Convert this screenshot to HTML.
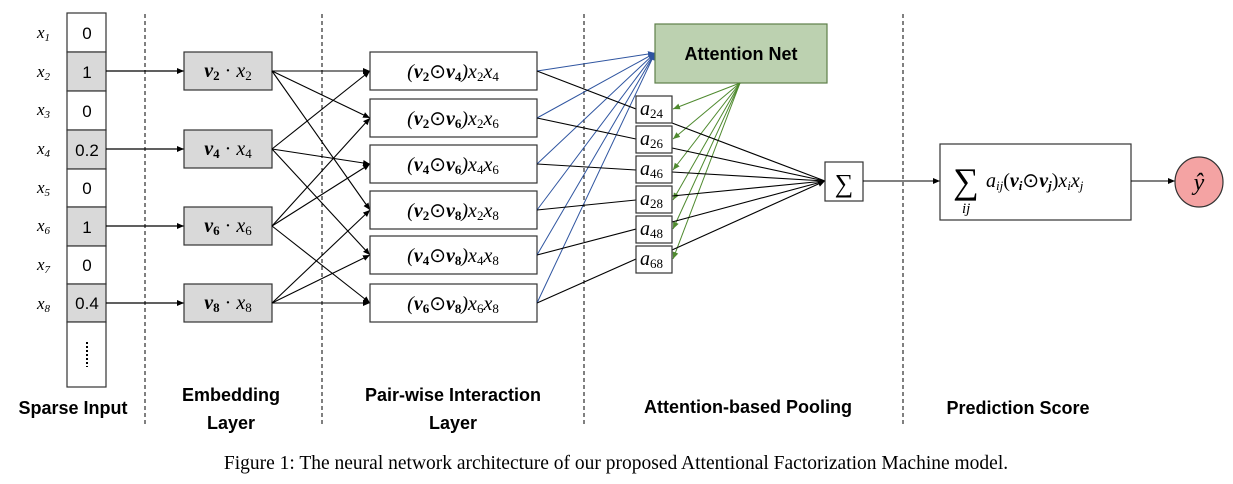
<!DOCTYPE html>
<html><head><meta charset="utf-8"><style>
body{margin:0;background:#fff}
svg text{font-family:"Liberation Serif",serif}
svg text.sans{font-family:"Liberation Sans",sans-serif}
.m{font-family:"Liberation Serif",serif;font-style:italic;font-size:20px}
</style></head><body>
<svg width="1233" height="479" viewBox="0 0 1233 479" xmlns="http://www.w3.org/2000/svg">
<defs>
<marker id="ak" markerWidth="8" markerHeight="8" refX="7" refY="4" orient="auto" markerUnits="userSpaceOnUse"><path d="M0,1 L7,4 L0,7z" fill="#000"/></marker>
<marker id="ab" markerWidth="8" markerHeight="8" refX="7" refY="4" orient="auto" markerUnits="userSpaceOnUse"><path d="M0,1 L7,4 L0,7z" fill="#2f55a0"/></marker>
<marker id="ag" markerWidth="8" markerHeight="8" refX="7" refY="4" orient="auto" markerUnits="userSpaceOnUse"><path d="M0,1 L7,4 L0,7z" fill="#4f8a2f"/></marker>
</defs>
<g stroke="#000" stroke-dasharray="4,3" stroke-width="1">
<line x1="145" y1="14" x2="145" y2="426"/><line x1="322" y1="14" x2="322" y2="426"/>
<line x1="584" y1="14" x2="584" y2="426"/><line x1="903" y1="14" x2="903" y2="426"/>
</g>
<g stroke="#333" stroke-width="1.2">
<rect x="67" y="13" width="39" height="39" fill="#fff"/>
<rect x="67" y="52" width="39" height="39" fill="#d9d9d9"/>
<rect x="67" y="91" width="39" height="39" fill="#fff"/>
<rect x="67" y="130" width="39" height="39" fill="#d9d9d9"/>
<rect x="67" y="169" width="39" height="38" fill="#fff"/>
<rect x="67" y="207" width="39" height="39" fill="#d9d9d9"/>
<rect x="67" y="246" width="39" height="38" fill="#fff"/>
<rect x="67" y="284" width="39" height="38" fill="#d9d9d9"/>
<rect x="67" y="322" width="39" height="65" fill="#fff"/>
</g>
<line x1="87" y1="342" x2="87" y2="367" stroke="#000" stroke-width="2" stroke-dasharray="2,2"/>
<g font-size="17" text-anchor="middle">
<text x="87" y="39" class="sans">0</text>
<text x="87" y="78" class="sans">1</text>
<text x="87" y="117" class="sans">0</text>
<text x="87" y="156" class="sans">0.2</text>
<text x="87" y="194" class="sans">0</text>
<text x="87" y="233" class="sans">1</text>
<text x="87" y="271" class="sans">0</text>
<text x="87" y="309" class="sans">0.4</text>
</g>
<g>
<text x="37" y="38" class="m" style="font-size:17px">x<tspan font-size="11" dy="3">1</tspan></text>
<text x="37" y="77" class="m" style="font-size:17px">x<tspan font-size="11" dy="3">2</tspan></text>
<text x="37" y="115" class="m" style="font-size:17px">x<tspan font-size="11" dy="3">3</tspan></text>
<text x="37" y="154" class="m" style="font-size:17px">x<tspan font-size="11" dy="3">4</tspan></text>
<text x="37" y="193" class="m" style="font-size:17px">x<tspan font-size="11" dy="3">5</tspan></text>
<text x="37" y="231" class="m" style="font-size:17px">x<tspan font-size="11" dy="3">6</tspan></text>
<text x="37" y="270" class="m" style="font-size:17px">x<tspan font-size="11" dy="3">7</tspan></text>
<text x="37" y="309" class="m" style="font-size:17px">x<tspan font-size="11" dy="3">8</tspan></text>
</g>
<g stroke="#000" stroke-width="1.2" marker-end="url(#ak)">
<line x1="106" y1="71" x2="184" y2="71"/><line x1="106" y1="149" x2="184" y2="149"/>
<line x1="106" y1="226" x2="184" y2="226"/><line x1="106" y1="303" x2="184" y2="303"/>
</g>
<g stroke="#333" stroke-width="1.2" fill="#d9d9d9">
<rect x="184" y="52" width="88" height="38"/><rect x="184" y="130" width="88" height="38"/>
<rect x="184" y="207" width="88" height="38"/><rect x="184" y="284" width="88" height="38"/>
</g>
<g text-anchor="middle">
<text x="228" y="77" class="m"><tspan font-weight="bold">v</tspan><tspan font-weight="bold" font-style="normal" font-size="13" dy="3">2</tspan><tspan dy="-3" font-style="normal"> · </tspan>x<tspan font-size="13" font-style="normal" dy="3">2</tspan></text>
<text x="228" y="155" class="m"><tspan font-weight="bold">v</tspan><tspan font-weight="bold" font-style="normal" font-size="13" dy="3">4</tspan><tspan dy="-3" font-style="normal"> · </tspan>x<tspan font-size="13" font-style="normal" dy="3">4</tspan></text>
<text x="228" y="232" class="m"><tspan font-weight="bold">v</tspan><tspan font-weight="bold" font-style="normal" font-size="13" dy="3">6</tspan><tspan dy="-3" font-style="normal"> · </tspan>x<tspan font-size="13" font-style="normal" dy="3">6</tspan></text>
<text x="228" y="309" class="m"><tspan font-weight="bold">v</tspan><tspan font-weight="bold" font-style="normal" font-size="13" dy="3">8</tspan><tspan dy="-3" font-style="normal"> · </tspan>x<tspan font-size="13" font-style="normal" dy="3">8</tspan></text>
</g>
<g stroke="#000" stroke-width="1.1" marker-end="url(#ak)">
<line x1="272" y1="71" x2="370" y2="71"/><line x1="272" y1="71" x2="370" y2="118"/><line x1="272" y1="71" x2="370" y2="210"/>
<line x1="272" y1="149" x2="370" y2="71"/><line x1="272" y1="149" x2="370" y2="164"/><line x1="272" y1="149" x2="370" y2="255"/>
<line x1="272" y1="226" x2="370" y2="118"/><line x1="272" y1="226" x2="370" y2="164"/><line x1="272" y1="226" x2="370" y2="303"/>
<line x1="272" y1="303" x2="370" y2="210"/><line x1="272" y1="303" x2="370" y2="255"/><line x1="272" y1="303" x2="370" y2="303"/>
</g>
<g stroke="#333" stroke-width="1.2" fill="#fff">
<rect x="370" y="52" width="167" height="38"/><rect x="370" y="99" width="167" height="38"/>
<rect x="370" y="145" width="167" height="38"/><rect x="370" y="191" width="167" height="38"/>
<rect x="370" y="236" width="167" height="38"/><rect x="370" y="284" width="167" height="38"/>
</g>
<g text-anchor="middle">
<text x="453" y="78" class="m">(<tspan font-weight="bold">v</tspan><tspan font-weight="bold" font-style="normal" font-size="13" dy="3">2</tspan><tspan dy="-3" font-style="normal">⊙</tspan><tspan font-weight="bold">v</tspan><tspan font-weight="bold" font-style="normal" font-size="13" dy="3">4</tspan><tspan dy="-3">)x</tspan><tspan font-size="13" font-style="normal" dy="3">2</tspan><tspan dy="-3">x</tspan><tspan font-size="13" font-style="normal" dy="3">4</tspan></text>
<text x="453" y="125" class="m">(<tspan font-weight="bold">v</tspan><tspan font-weight="bold" font-style="normal" font-size="13" dy="3">2</tspan><tspan dy="-3" font-style="normal">⊙</tspan><tspan font-weight="bold">v</tspan><tspan font-weight="bold" font-style="normal" font-size="13" dy="3">6</tspan><tspan dy="-3">)x</tspan><tspan font-size="13" font-style="normal" dy="3">2</tspan><tspan dy="-3">x</tspan><tspan font-size="13" font-style="normal" dy="3">6</tspan></text>
<text x="453" y="171" class="m">(<tspan font-weight="bold">v</tspan><tspan font-weight="bold" font-style="normal" font-size="13" dy="3">4</tspan><tspan dy="-3" font-style="normal">⊙</tspan><tspan font-weight="bold">v</tspan><tspan font-weight="bold" font-style="normal" font-size="13" dy="3">6</tspan><tspan dy="-3">)x</tspan><tspan font-size="13" font-style="normal" dy="3">4</tspan><tspan dy="-3">x</tspan><tspan font-size="13" font-style="normal" dy="3">6</tspan></text>
<text x="453" y="217" class="m">(<tspan font-weight="bold">v</tspan><tspan font-weight="bold" font-style="normal" font-size="13" dy="3">2</tspan><tspan dy="-3" font-style="normal">⊙</tspan><tspan font-weight="bold">v</tspan><tspan font-weight="bold" font-style="normal" font-size="13" dy="3">8</tspan><tspan dy="-3">)x</tspan><tspan font-size="13" font-style="normal" dy="3">2</tspan><tspan dy="-3">x</tspan><tspan font-size="13" font-style="normal" dy="3">8</tspan></text>
<text x="453" y="262" class="m">(<tspan font-weight="bold">v</tspan><tspan font-weight="bold" font-style="normal" font-size="13" dy="3">4</tspan><tspan dy="-3" font-style="normal">⊙</tspan><tspan font-weight="bold">v</tspan><tspan font-weight="bold" font-style="normal" font-size="13" dy="3">8</tspan><tspan dy="-3">)x</tspan><tspan font-size="13" font-style="normal" dy="3">4</tspan><tspan dy="-3">x</tspan><tspan font-size="13" font-style="normal" dy="3">8</tspan></text>
<text x="453" y="310" class="m">(<tspan font-weight="bold">v</tspan><tspan font-weight="bold" font-style="normal" font-size="13" dy="3">6</tspan><tspan dy="-3" font-style="normal">⊙</tspan><tspan font-weight="bold">v</tspan><tspan font-weight="bold" font-style="normal" font-size="13" dy="3">8</tspan><tspan dy="-3">)x</tspan><tspan font-size="13" font-style="normal" dy="3">6</tspan><tspan dy="-3">x</tspan><tspan font-size="13" font-style="normal" dy="3">8</tspan></text>
</g>
<g stroke="#2f55a0" stroke-width="1" marker-end="url(#ab)">
<line x1="537" y1="71" x2="655" y2="53"/><line x1="537" y1="118" x2="655" y2="53"/>
<line x1="537" y1="164" x2="655" y2="53"/><line x1="537" y1="210" x2="655" y2="53"/>
<line x1="537" y1="255" x2="655" y2="53"/><line x1="537" y1="303" x2="655" y2="53"/>
</g>
<g stroke="#000" stroke-width="1.1">
<line x1="537" y1="71" x2="636" y2="109"/><line x1="537" y1="118" x2="636" y2="139"/>
<line x1="537" y1="164" x2="636" y2="170"/><line x1="537" y1="210" x2="636" y2="200"/>
<line x1="537" y1="255" x2="636" y2="229"/><line x1="537" y1="303" x2="636" y2="259"/>
</g>
<rect x="655" y="24" width="172" height="59" fill="#bcd1b0" stroke="#5e7f4a" stroke-width="1.2"/>
<text x="741" y="60" text-anchor="middle" class="sans" font-weight="bold" font-size="18">Attention Net</text>
<g stroke="#4f8a2f" stroke-width="1" marker-end="url(#ag)">
<line x1="740" y1="83" x2="673" y2="109"/><line x1="740" y1="83" x2="673" y2="139"/>
<line x1="740" y1="83" x2="673" y2="170"/><line x1="740" y1="83" x2="673" y2="200"/>
<line x1="740" y1="83" x2="673" y2="229"/><line x1="740" y1="83" x2="673" y2="259"/>
</g>
<g stroke="#000" stroke-width="1.1">
<line x1="672" y1="123" x2="825" y2="181"/><line x1="672" y1="148" x2="825" y2="181"/>
<line x1="672" y1="172" x2="825" y2="181"/><line x1="672" y1="196" x2="825" y2="181"/>
<line x1="672" y1="222" x2="825" y2="181"/><line x1="672" y1="250" x2="825" y2="181" marker-end="url(#ak)"/>
</g>
<g stroke="#333" stroke-width="1.2" fill="#fff">
<rect x="636" y="96" width="36" height="27"/><rect x="636" y="126" width="36" height="27"/>
<rect x="636" y="156" width="36" height="27"/><rect x="636" y="186" width="36" height="27"/>
<rect x="636" y="216" width="36" height="27"/><rect x="636" y="246" width="36" height="27"/>
</g>
<g>
<text x="640" y="115" class="m">a<tspan font-style="normal" font-size="13" dy="3">24</tspan></text>
<text x="640" y="145" class="m">a<tspan font-style="normal" font-size="13" dy="3">26</tspan></text>
<text x="640" y="175" class="m">a<tspan font-style="normal" font-size="13" dy="3">46</tspan></text>
<text x="640" y="205" class="m">a<tspan font-style="normal" font-size="13" dy="3">28</tspan></text>
<text x="640" y="235" class="m">a<tspan font-style="normal" font-size="13" dy="3">48</tspan></text>
<text x="640" y="265" class="m">a<tspan font-style="normal" font-size="13" dy="3">68</tspan></text>
</g>
<rect x="825" y="162" width="38" height="39" fill="#fff" stroke="#333" stroke-width="1.2"/>
<text x="844" y="192" text-anchor="middle" font-size="26">∑</text>
<line x1="863" y1="181" x2="940" y2="181" stroke="#000" stroke-width="1.1" marker-end="url(#ak)"/>
<rect x="940" y="144" width="191" height="76" fill="#fff" stroke="#333" stroke-width="1.2"/>
<text x="966" y="193" text-anchor="middle" font-size="36">∑</text>
<text x="962" y="213" class="m" style="font-size:15px">ij</text>
<text x="986" y="187" class="m">a<tspan font-size="13" dy="3">ij</tspan><tspan dy="-3" font-style="normal">(</tspan><tspan font-weight="bold">v</tspan><tspan font-weight="bold" font-size="13" dy="3">i</tspan><tspan dy="-3" font-style="normal">⊙</tspan><tspan font-weight="bold">v</tspan><tspan font-weight="bold" font-size="13" dy="3">j</tspan><tspan dy="-3" font-style="normal">)</tspan>x<tspan font-size="13" dy="3">i</tspan><tspan dy="-3">x</tspan><tspan font-size="13" dy="3">j</tspan></text>
<line x1="1131" y1="181" x2="1175" y2="181" stroke="#000" stroke-width="1.1" marker-end="url(#ak)"/>
<ellipse cx="1199" cy="182" rx="24" ry="25" fill="#f4a3a3" stroke="#333" stroke-width="1.2"/>
<text x="1199" y="190" text-anchor="middle" class="m" style="font-size:24px">ŷ</text>
<g class="sans" font-weight="bold" font-size="18" text-anchor="middle">
<text x="73" y="414" class="sans">Sparse Input</text>
<text x="231" y="401" class="sans">Embedding</text>
<text x="231" y="429" class="sans">Layer</text>
<text x="453" y="401" class="sans">Pair-wise Interaction</text>
<text x="453" y="429" class="sans">Layer</text>
<text x="748" y="413" class="sans">Attention-based Pooling</text>
<text x="1018" y="414" class="sans">Prediction Score</text>
</g>
<text x="616" y="469" text-anchor="middle" font-size="19.5">Figure 1: The neural network architecture of our proposed Attentional Factorization Machine model.</text>
</svg>
</body></html>
